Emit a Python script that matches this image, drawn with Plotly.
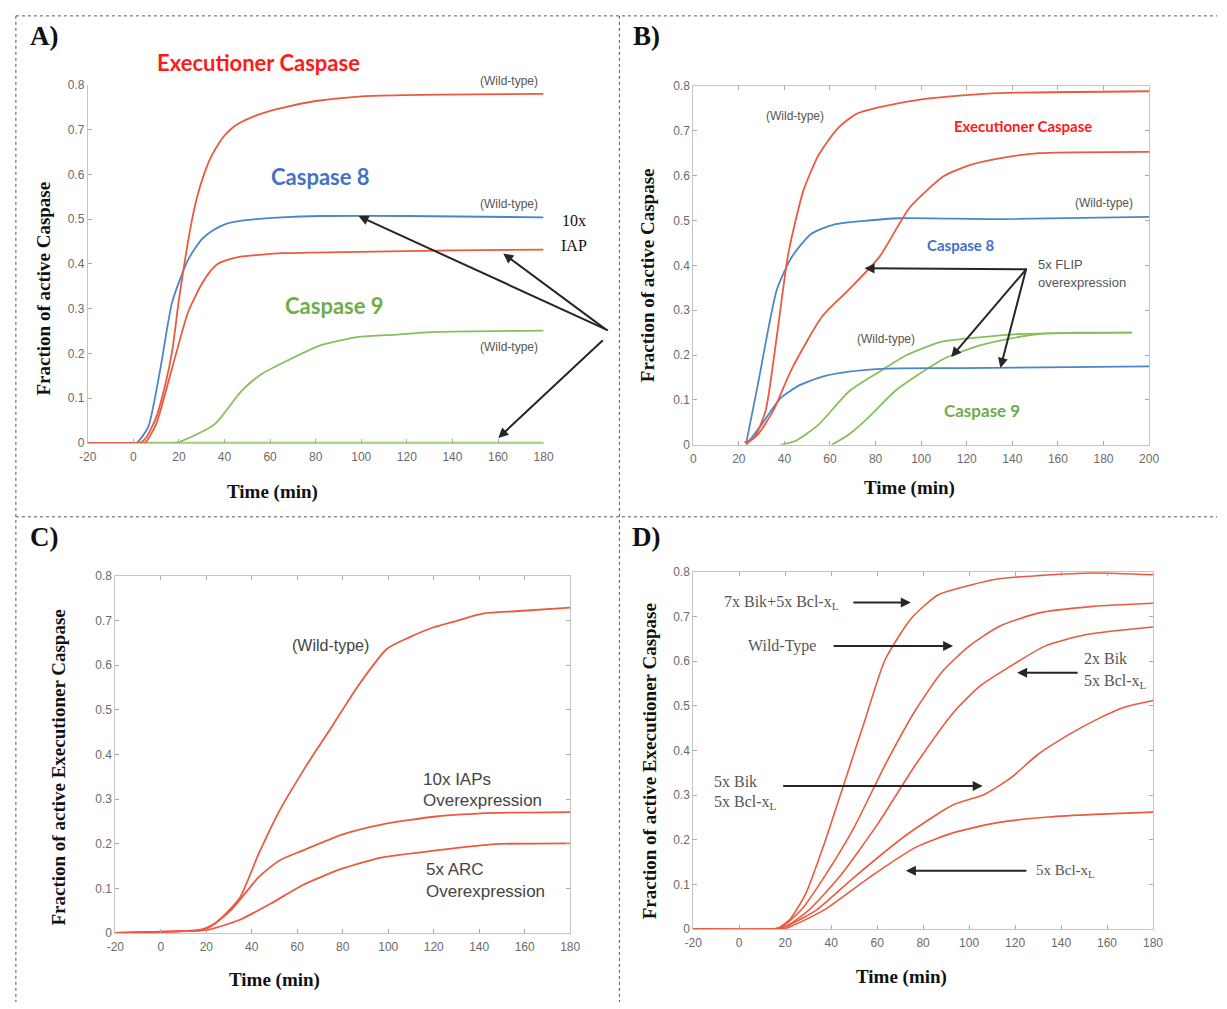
import plotly.graph_objects as go

W, H = 1227, 1009


def px(x):
    return x / W


def py(y):
    return 1 - y / H


# ---------------- Panel A: wild-type vs 10x IAP ----------------
a_exec_wt_t = [-20, 0, 3, 6, 10, 14, 17, 20, 22, 24, 26, 28, 31, 34, 37, 40, 43, 46, 54, 63, 80, 99, 119, 150, 180]
a_exec_wt_y = [0, 0, 0, 0.015, 0.057, 0.13, 0.204, 0.32, 0.387, 0.45, 0.505, 0.55, 0.6, 0.638, 0.665, 0.687,
               0.702, 0.713, 0.732, 0.746, 0.764, 0.774, 0.777, 0.779, 0.78]
a_exec_iap_t = [-20, 0, 5, 10, 17, 24, 30, 34, 37, 42, 47, 55, 65, 99, 140, 180]
a_exec_iap_y = [0, 0, 0, 0.042, 0.167, 0.292, 0.355, 0.385, 0.4, 0.41, 0.416, 0.42, 0.424, 0.427, 0.43, 0.432]
a_c8_t = [-20, 0, 1.5, 6.5, 12, 17, 24, 30, 35, 41, 47, 54, 65, 82, 120, 180]
a_c8_y = [0, 0, 0, 0.035, 0.17, 0.314, 0.409, 0.455, 0.475, 0.49, 0.496, 0.5, 0.504, 0.507, 0.507, 0.504]
a_c9_wt_t = [2, 18.5, 27, 36, 47.5, 56, 68, 82, 99, 116, 133, 180]
a_c9_wt_y = [0, 0, 0.017, 0.043, 0.116, 0.153, 0.185, 0.218, 0.237, 0.242, 0.248, 0.251]
a_c9_iap_t = [2, 180]
a_c9_iap_y = [0, 0]

# ---------------- Panel B: wild-type vs 5x FLIP ----------------
b_exec_wt_t = [22.5, 26.7, 31.7, 36.7, 41.7, 48.3, 55, 63.3, 71.7, 85, 101.7, 118.3, 135, 200]
b_exec_wt_y = [0.005, 0.016, 0.075, 0.243, 0.426, 0.566, 0.646, 0.705, 0.738, 0.756, 0.771, 0.779, 0.784, 0.788]
b_exec_flip_t = [23.3, 28.3, 35, 43.3, 56.7, 68.3, 81.7, 95, 110, 121.7, 135, 151.7, 200]
b_exec_flip_y = [0.003, 0.023, 0.075, 0.17, 0.287, 0.346, 0.419, 0.529, 0.599, 0.624, 0.639, 0.65, 0.653]
b_c8_wt_t = [23.3, 28.3, 36.7, 43.3, 51.7, 61.7, 76.7, 90, 135, 200]
b_c8_wt_y = [0.005, 0.133, 0.346, 0.419, 0.47, 0.491, 0.5, 0.505, 0.503, 0.508]
b_c8_flip_t = [23.3, 30, 38.3, 46.7, 56.7, 68.3, 85, 118, 200]
b_c8_flip_y = [0, 0.045, 0.104, 0.133, 0.152, 0.163, 0.17, 0.171, 0.175]
b_c9_wt_t = [38.3, 45, 55, 68.3, 81.7, 93.3, 108.3, 126.7, 143.3, 168, 192.5]
b_c9_wt_y = [0, 0.009, 0.045, 0.119, 0.163, 0.199, 0.229, 0.24, 0.247, 0.249, 0.25]
b_c9_flip_t = [60.8, 68.3, 76.7, 88.3, 98.3, 110, 123.3, 138.3, 151.7, 168, 192.5]
b_c9_flip_y = [0, 0.023, 0.06, 0.119, 0.155, 0.192, 0.218, 0.236, 0.247, 0.25, 0.25]

# ---------------- Panel C: executioner caspase, IAP / ARC ----------------
c_wt_t = [-20, 10, 17, 24, 34.5, 43, 52, 64, 74.4, 86.5, 99.5, 109, 119.4, 129.8, 142, 156, 180]
c_wt_y = [0, 0.004, 0.006, 0.022, 0.077, 0.177, 0.272, 0.375, 0.456, 0.552, 0.637, 0.662, 0.684,
          0.699, 0.716, 0.721, 0.729]
c_iap_t = [-20, 10, 20.7, 31, 43, 52, 62, 80, 97, 121, 147, 180]
c_iap_y = [0, 0.004, 0.011, 0.052, 0.125, 0.162, 0.184, 0.221, 0.243, 0.261, 0.269, 0.271]
c_arc_t = [-20, 10, 20.7, 34.5, 48.4, 62.3, 79.6, 96.9, 121, 147, 180]
c_arc_y = [0, 0.004, 0.007, 0.029, 0.066, 0.107, 0.144, 0.169, 0.185, 0.199, 0.201]

# ---------------- Panel D: Bik / Bcl-xL combinations ----------------
d_7bik_t = [-20, 15, 17, 22, 29, 37, 45, 54, 63.5, 75, 86.6, 100, 113, 130, 154, 180]
d_7bik_y = [0, 0, 0.002, 0.021, 0.08, 0.191, 0.316, 0.457, 0.604, 0.697, 0.749, 0.77, 0.785, 0.792, 0.798, 0.794]
d_wt_t = [-20, 15, 19, 27, 37, 50, 63.5, 77, 88, 100, 113, 130, 154, 180]
d_wt_y = [0, 0, 0.006, 0.043, 0.117, 0.228, 0.368, 0.493, 0.575, 0.634, 0.678, 0.708, 0.723, 0.73]
d_2bik_t = [-20, 15, 20.5, 30.4, 43.6, 60.2, 76.7, 93.3, 104.8, 118, 133, 151, 180]
d_2bik_y = [0, 0, 0.006, 0.043, 0.117, 0.235, 0.368, 0.486, 0.545, 0.589, 0.634, 0.66, 0.677]
d_5bik_t = [-20, 15, 20.5, 33.7, 50.2, 73.3, 93.3, 106.4, 118, 129.6, 142.8, 156, 167.6, 180]
d_5bik_y = [0, 0, 0.006, 0.043, 0.117, 0.213, 0.279, 0.301, 0.338, 0.39, 0.434, 0.471, 0.497, 0.512]
d_bcl_t = [-20, 15, 20.5, 37, 57, 76.7, 93.3, 113, 134.5, 154.4, 180]
d_bcl_y = [0, 0, 0.002, 0.043, 0.117, 0.183, 0.216, 0.239, 0.251, 0.257, 0.262]

x_ticks_a = [-20, 0, 20, 40, 60, 80, 100, 120, 140, 160, 180]
x_ticks_b = [0, 20, 40, 60, 80, 100, 120, 140, 160, 180, 200]
y_ticks = [0, 0.1, 0.2, 0.3, 0.4, 0.5, 0.6, 0.7, 0.8]
y_tick_text = ["0", "0.1", "0.2", "0.3", "0.4", "0.5", "0.6", "0.7", "0.8"]

RED = "#ea5a40"
BLUE = "#4a86c8"
GREEN = "#85c05a"
TICK_GRAY = "#6a6a6a"
AXIS_GRAY = "#c4c4c4"

fig = go.Figure()


def line(t, y, color, ax, width=1.8):
    fig.add_trace(go.Scatter(
        x=t, y=y, mode="lines", xaxis="x" + ax, yaxis="y" + ax,
        line=dict(color=color, width=width, shape="spline", smoothing=0.6),
        showlegend=False, hoverinfo="skip"))


# Panel A
line(a_c9_iap_t, a_c9_iap_y, GREEN, "", 2.4)
line(a_c9_wt_t, a_c9_wt_y, GREEN, "")
line(a_c8_t, a_c8_y, BLUE, "")
line(a_exec_iap_t, a_exec_iap_y, RED, "")
line(a_exec_wt_t, a_exec_wt_y, RED, "")
# Panel B
line(b_c9_wt_t, b_c9_wt_y, GREEN, "2")
line(b_c9_flip_t, b_c9_flip_y, GREEN, "2")
line(b_c8_wt_t, b_c8_wt_y, BLUE, "2")
line(b_c8_flip_t, b_c8_flip_y, BLUE, "2")
line(b_exec_wt_t, b_exec_wt_y, RED, "2")
line(b_exec_flip_t, b_exec_flip_y, RED, "2")
# Panel C
line(c_wt_t, c_wt_y, RED, "3")
line(c_iap_t, c_iap_y, RED, "3")
line(c_arc_t, c_arc_y, RED, "3")
# Panel D
for t, y in [(d_7bik_t, d_7bik_y), (d_wt_t, d_wt_y), (d_2bik_t, d_2bik_y),
             (d_5bik_t, d_5bik_y), (d_bcl_t, d_bcl_y)]:
    line(t, y, RED, "4", 1.6)


def xaxis(x0, x1, rng, ticks, anchor, boxed):
    return dict(domain=[px(x0), px(x1)], range=rng, anchor=anchor,
                tickvals=ticks, ticktext=[str(v) for v in ticks],
                showgrid=False, zeroline=False, showline=True, linecolor=AXIS_GRAY,
                linewidth=1, mirror="ticks" if boxed else False,
                ticks="inside", ticklen=4, tickcolor="#aaaaaa", ticklabelstandoff=3,
                tickfont=dict(family="Liberation Sans, Arial", size=12, color=TICK_GRAY))


def yaxis(y0, y1, anchor, boxed):
    return dict(domain=[py(y0), py(y1)], range=[0, 0.8], anchor=anchor,
                tickvals=y_ticks, ticktext=y_tick_text,
                showgrid=False, zeroline=False, showline=True, linecolor=AXIS_GRAY,
                linewidth=1, mirror="ticks" if boxed else False,
                ticks="inside", ticklen=4, tickcolor="#aaaaaa",
                tickfont=dict(family="Liberation Sans, Arial", size=12, color=TICK_GRAY))


serif = "Liberation Serif, Times New Roman, serif"
sans = "Liberation Sans, Arial, sans-serif"
callout = "Lato, Open Sans, sans-serif"

ann = []


def text(x, y, s, size, color="#111", family=serif, bold=False, angle=0, xanchor="center"):
    ann.append(dict(x=px(x), y=py(y), xref="paper", yref="paper", text=s, showarrow=False,
                    textangle=angle, xanchor=xanchor, yanchor="middle",
                    font=dict(family=family, size=size, color=color,
                              weight="bold" if bold else "normal")))


def arrow(hx, hy, tx, ty, color="#262626", width=2.0, size=1.0):
    ann.append(dict(x=px(hx), y=py(hy), xref="paper", yref="paper", ax=tx - hx, ay=ty - hy,
                    axref="pixel", ayref="pixel", text="", showarrow=True, arrowhead=2,
                    arrowsize=size, arrowwidth=width, arrowcolor=color))


# panel letters
text(36, 29, "A)", 27, bold=True)
text(648, 29, "B)", 27, bold=True)
text(36, 537, "C)", 27, bold=True)
text(648, 537, "D)", 27, bold=True)

# axis titles
text(268, 492, "Time (min)", 19, bold=True)
text(915, 488, "Time (min)", 19, bold=True)
text(270, 987, "Time (min)", 19, bold=True)
text(907, 984, "Time (min)", 19, bold=True)
text(35, 285, "Fraction of active Caspase", 19, bold=True, angle=-90)
text(648, 272, "Fraction of active Caspase", 19, bold=True, angle=-90)
text(50, 771, "Fraction of active Executioner Caspase", 19, bold=True, angle=-90)
text(650, 765, "Fraction of active Executioner Caspase", 19, bold=True, angle=-90)

# panel A callouts
text(253, 56, "Executioner Caspase", 22, "#ff1a1a", callout, True)
text(316, 172, "Caspase 8", 22, "#4472c4", callout, True)
text(331, 303, "Caspase 9", 22, "#70ad47", callout, True)
text(508, 75, "(Wild-type)", 12, "#555", sans)
text(508, 200, "(Wild-type)", 12, "#555", sans)
text(508, 345, "(Wild-type)", 12, "#555", sans)
text(574, 217, "10x", 16, "#111", serif)
text(574, 242, "IAP", 16, "#111", serif)
arrow(355, 212, 606, 327)
arrow(502, 250, 606, 327)
arrow(497, 437, 603, 338)

# panel B callouts
text(798, 111, "(Wild-type)", 12, "#555", sans)
text(1030, 121, "Executioner Caspase", 15, "#ff1a1a", callout, True)
text(1112, 199, "(Wild-type)", 12, "#555", sans)
text(967, 241, "Caspase 8", 15, "#4472c4", callout, True)
text(1043, 261, "5x FLIP", 13, "#555", sans, xanchor="left")
text(1043, 279, "overexpression", 13, "#555", sans, xanchor="left")
text(891, 337, "(Wild-type)", 12, "#555", sans)
text(988, 409, "Caspase 9", 17, "#70ad47", callout, True)
arrow(869, 265, 1033, 266)
arrow(957, 355, 1033, 266)
arrow(1007, 366, 1033, 266)

# panel C labels
text(327, 647, "(Wild-type)", 16, "#444", sans)
text(418, 783, "10x IAPs", 17, "#444", sans, xanchor="left")
text(418, 805, "Overexpression", 17, "#444", sans, xanchor="left")
text(422, 875, "5x ARC", 17, "#444", sans, xanchor="left")
text(422, 897, "Overexpression", 17, "#444", sans, xanchor="left")

# panel D labels
dgray = "#555"
text(724, 604, "7x Bik+5x Bcl-x<sub>L</sub>", 16, dgray, serif, xanchor="left")
text(749, 648, "Wild-Type", 16, dgray, serif, xanchor="left")
text(1090, 661, "2x Bik", 16, dgray, serif, xanchor="left")
text(1090, 684, "5x Bcl-x<sub>L</sub>", 16, dgray, serif, xanchor="left")
text(714, 785, "5x Bik", 16, dgray, serif, xanchor="left")
text(714, 807, "5x Bcl-x<sub>L</sub>", 16, dgray, serif, xanchor="left")
text(1041, 876, "5x Bcl-x<sub>L</sub>", 15, dgray, serif, xanchor="left")
arrow(916, 604, 857, 604)
arrow(959, 648, 838, 648)
arrow(1024, 675, 1086, 675)
arrow(989, 790, 788, 790)
arrow(911, 876, 1033, 876)

# dotted panel separators
shapes = []
for x0, y0, x1, y1 in [(7, 9, W, 9), (7, 9, 7, H), (620, 9, 620, H), (7, 517, W, 517)]:
    shapes.append(dict(type="line", xref="paper", yref="paper",
                       x0=px(x0), y0=py(y0), x1=px(x1), y1=py(y1),
                       line=dict(color="#555", width=1, dash="dot")))

fig.update_layout(
    width=W, height=H, margin=dict(l=0, r=0, t=0, b=0),
    paper_bgcolor="white", plot_bgcolor="white",
    xaxis=xaxis(80, 543, [-20, 180], x_ticks_a, "y", False),
    yaxis=yaxis(442, 79, "x", False),
    xaxis2=xaxis(695, 1158, [0, 200], x_ticks_b, "y2", True),
    yaxis2=yaxis(444, 80, "x2", True),
    xaxis3=xaxis(108, 570, [-20, 180], x_ticks_a, "y3", True),
    yaxis3=yaxis(939, 577, "x3", True),
    xaxis4=xaxis(695, 1162, [-20, 180], x_ticks_a, "y4", True),
    yaxis4=yaxis(935, 573, "x4", True),
    annotations=ann, shapes=shapes,
)

fig.write_html("out.html")
